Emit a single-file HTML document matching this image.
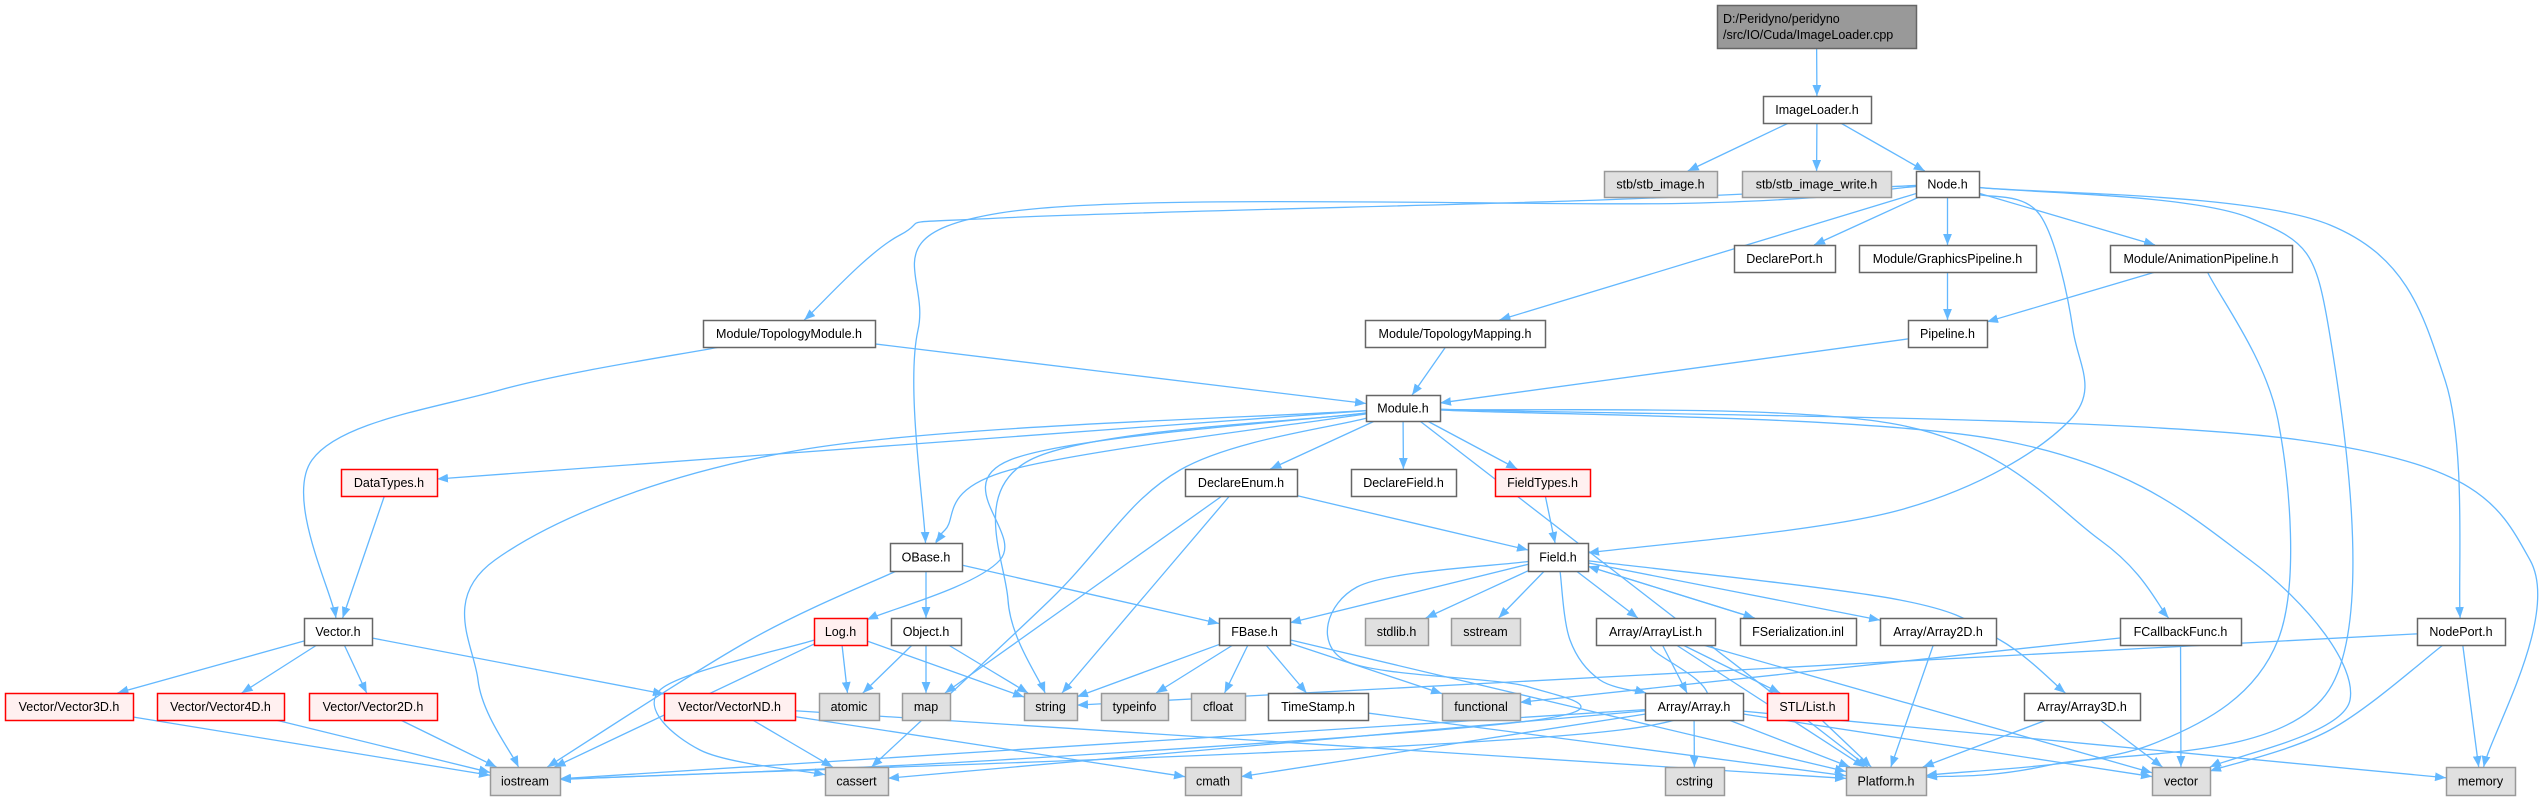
<!DOCTYPE html>
<html><head><meta charset="utf-8">
<style>
html,body{margin:0;padding:0;background:#fff;}
svg{display:block;}
text{font-family:"Liberation Sans",Arial,sans-serif;font-size:12.5px;fill:#000;}
</style></head>
<body>
<svg id="g" width="2548" height="800" viewBox="0 0 2548 800" xmlns="http://www.w3.org/2000/svg">
<defs>
<marker id="ah" viewBox="0 0 10 8" refX="10" refY="4" markerWidth="11" markerHeight="9" markerUnits="userSpaceOnUse" orient="auto">
<path d="M0,0 L10,4 L0,8 z" fill="#63b8ff"/>
</marker>
</defs>
<g id="edges" fill="none" stroke="#63b8ff" stroke-width="1.3"></g>
<g id="nodes"></g>
</svg>
<script>
var R=[[5,48],[96,123],[171,197],[245,272],[320,347],[395,421],[469,496],[543,571],[618,645],[693,720],[767,795]];
function n(x1,x2,r,t,l){return {x1:x1,x2:x2,y1:R[r][0],y2:R[r][1],t:t,l:l};}
var N={
cpp:n(1717,1916,0,'m','D:/Peridyno/peridyno|/src/IO/Cuda/ImageLoader.cpp'),
il:n(1763,1871,1,'w','ImageLoader.h'),
stbi:n(1604,1717,2,'g','stb/stb_image.h'),
stbw:n(1742,1891,2,'g','stb/stb_image_write.h'),
node:n(1916,1979,2,'w','Node.h'),
dport:n(1734,1835,3,'w','DeclarePort.h'),
gp:n(1859,2036,3,'w','Module/GraphicsPipeline.h'),
ap:n(2110,2292,3,'w','Module/AnimationPipeline.h'),
tmod:n(703,875,4,'w','Module/TopologyModule.h'),
tmap:n(1365,1545,4,'w','Module/TopologyMapping.h'),
pipe:n(1908,1987,4,'w','Pipeline.h'),
mod:n(1366,1440,5,'w','Module.h'),
dt:n(341,437,6,'r','DataTypes.h'),
de:n(1185,1297,6,'w','DeclareEnum.h'),
df:n(1351,1456,6,'w','DeclareField.h'),
ft:n(1495,1590,6,'r','FieldTypes.h'),
obase:n(890,962,7,'w','OBase.h'),
field:n(1528,1588,7,'w','Field.h'),
fcb:n(2120,2241,8,'w','FCallbackFunc.h'),
nport:n(2417,2505,8,'w','NodePort.h'),
vec:n(304,372,8,'w','Vector.h'),
log:n(814,867,8,'r','Log.h'),
obj:n(891,961,8,'w','Object.h'),
fbase:n(1219,1290,8,'w','FBase.h'),
stdlib:n(1365,1428,8,'g','stdlib.h'),
sstream:n(1451,1520,8,'g','sstream'),
alist:n(1596,1715,8,'w','Array/ArrayList.h'),
fser:n(1740,1856,8,'w','FSerialization.inl'),
a2d:n(1880,1996,8,'w','Array/Array2D.h'),
v3:n(5,133,9,'r','Vector/Vector3D.h'),
v4:n(157,284,9,'r','Vector/Vector4D.h'),
v2:n(309,437,9,'r','Vector/Vector2D.h'),
vnd:n(664,795,9,'r','Vector/VectorND.h'),
atomic:n(819,879,9,'g','atomic'),
map:n(902,950,9,'g','map'),
str:n(1024,1077,9,'g','string'),
tinfo:n(1101,1168,9,'g','typeinfo'),
cfloat:n(1191,1245,9,'g','cfloat'),
ts:n(1268,1368,9,'w','TimeStamp.h'),
func:n(1442,1520,9,'g','functional'),
arr:n(1645,1743,9,'w','Array/Array.h'),
list:n(1767,1848,9,'r','STL/List.h'),
a3d:n(2024,2140,9,'w','Array/Array3D.h'),
ios:n(490,560,10,'g','iostream'),
cassert:n(825,888,10,'g','cassert'),
cmath:n(1185,1241,10,'g','cmath'),
cstring:n(1665,1724,10,'g','cstring'),
plat:n(1846,1926,10,'g','Platform.h'),
vector:n(2152,2210,10,'g','vector'),
memory:n(2446,2515,10,'g','memory')
};
var E=[
['cpp','il'],['il','stbi'],['il','stbw'],['il','node'],
['node','obase',[[1700,203],[1000,213],[918,330]]],
['node','tmod',[[1600,200],[1000,218],[900,235]]],
['node','tmap'],['node','dport'],['node','gp'],['node','ap'],
['node','field',[[2040,215],[2073,330],[2070,420],[1900,510]]],
['node','plat',[[2250,218],[2329,330],[2329,690],[2050,765]]],
['node','nport',[[2330,225],[2445,380]]],
['ap','plat',[[2278,420],[2278,640],[2150,745]]],
['tmod','vec',[[500,390],[312,460]]],['tmod','mod'],['tmap','mod'],['pipe','mod'],['gp','pipe'],['ap','pipe'],
['mod','dt'],
['mod','ios',[[800,450],[495,560],[478,680]]],
['mod','obase',[[1010,470],[945,530]]],
['mod','log',[[1010,460],[1000,560]]],
['mod','cassert',[[1180,470],[1050,600]]],
['mod','str',[[1030,460],[1008,600]]],
['mod','de'],['mod','df'],['mod','ft'],['mod','plat'],
['mod','fcb',[[1900,425],[2100,540]]],
['mod','vector',[[2000,440],[2250,560],[2350,700]]],
['mod','memory',[[2300,440],[2530,560]]],
['dt','vec'],
['de','field'],['de','map'],['de','str'],['ft','field'],
['obase','obj'],['obase','fbase'],['obase','ios',[[750,640]]],
['field','fbase'],['field','stdlib'],['field','sstream'],['field','alist'],['field','fser'],['field','a2d'],
['field','a3d',[[1900,600],[2000,640]]],
['field','arr',[[1570,640],[1600,680]]],
['field','ios',[[1357,587],[1344,660],[1529,687],[1536,720],[1000,760]]],
['fser','field'],
['vec','v3'],['vec','v4'],['vec','v2'],['vec','vnd'],
['v3','ios'],['v4','ios'],['v2','ios'],
['vnd','cassert'],['vnd','cmath'],['vnd','plat'],
['log','atomic'],['log','ios'],['log','cassert',[[660,690],[700,750]]],['log','str'],
['obj','atomic'],['obj','map'],['obj','str'],
['fbase','str'],['fbase','tinfo'],['fbase','cfloat'],['fbase','ts'],['fbase','func'],['fbase','plat'],
['ts','plat'],
['alist','arr'],['alist','list'],['alist','plat'],['alist','vector'],['alist','ios',[[1620,730]]],
['a2d','plat'],['a3d','plat'],['a3d','vector'],
['arr','ios'],['arr','cassert'],['arr','cmath'],['arr','cstring'],['arr','plat'],['arr','vector'],['arr','memory'],
['list','plat'],
['fcb','func'],['fcb','vector'],
['nport','str'],['nport','vector',[[2330,730]]],['nport','memory']
];
function c(b){return [(b.x1+b.x2)/2,(b.y1+b.y2)/2];}
function clip(b,p){var q=c(b),dx=p[0]-q[0],dy=p[1]-q[1];var hw=(b.x2-b.x1)/2,hh=(b.y2-b.y1)/2;
var s=Math.min(dx?hw/Math.abs(dx):1e9,dy?hh/Math.abs(dy):1e9);return [q[0]+dx*s,q[1]+dy*s];}
var eg=document.getElementById('edges'),ng=document.getElementById('nodes'),NS='http://www.w3.org/2000/svg';
E.forEach(function(e){var s=N[e[0]],t=N[e[1]],w=e[2]||[];
var pts=[c(s)].concat(w).concat([c(t)]);
pts[0]=clip(s,pts[1]);pts[pts.length-1]=clip(t,pts[pts.length-2]);
var d='M'+pts[0][0]+','+pts[0][1];
for(var i=0;i<pts.length-1;i++){var p0=pts[i-1]||pts[i],p1=pts[i],p2=pts[i+1],p3=pts[i+2]||p2;
var c1=[p1[0]+(p2[0]-p0[0])/6,p1[1]+(p2[1]-p0[1])/6],c2=[p2[0]-(p3[0]-p1[0])/6,p2[1]-(p3[1]-p1[1])/6];
d+=' C'+c1[0]+','+c1[1]+' '+c2[0]+','+c2[1]+' '+p2[0]+','+p2[1];}
var p=document.createElementNS(NS,'path');p.setAttribute('d',d);p.setAttribute('marker-end','url(#ah)');eg.appendChild(p);});
var st={w:['#ffffff','#666666'],g:['#e0e0e0','#999999'],r:['#fff0f0','#ff0000'],m:['#999999','#666666']};
for(var k in N){var b=N[k];var r=document.createElementNS(NS,'rect');
r.setAttribute('x',b.x1+0.5);r.setAttribute('y',b.y1+0.5);r.setAttribute('width',b.x2-b.x1);r.setAttribute('height',b.y2-b.y1);
r.setAttribute('fill',st[b.t][0]);r.setAttribute('stroke',st[b.t][1]);r.setAttribute('stroke-width','1.5');ng.appendChild(r);
var ls=b.l.split('|');ls.forEach(function(l,i){var t=document.createElementNS(NS,'text');
if(b.t=='m'){t.setAttribute('x',b.x1+6);}else{t.setAttribute('x',(b.x1+b.x2)/2);t.setAttribute('text-anchor','middle');}
var cy=(b.y1+b.y2)/2+4.5+(i-(ls.length-1)/2)*16;t.setAttribute('y',cy);t.textContent=l;ng.appendChild(t);});}
</script>
</body></html>
